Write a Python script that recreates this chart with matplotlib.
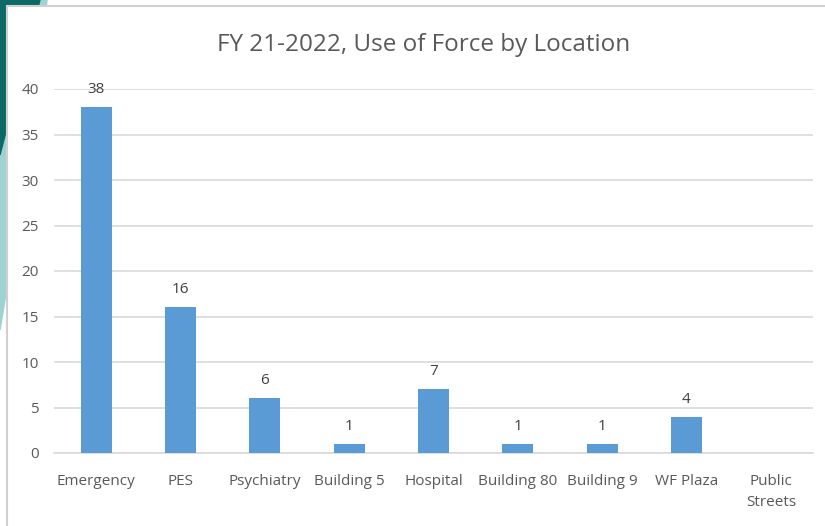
import matplotlib
matplotlib.use("Agg")
import matplotlib.pyplot as plt
from matplotlib.patches import Polygon, Rectangle
import numpy as np

plt.rcParams['font.family'] = ['Open Sans', 'DejaVu Sans']

locations = ["Emergency", "PES", "Psychiatry", "Building 5", "Hospital",
             "Building 80", "Building 9", "WF Plaza", "Public\nStreets"]
counts = [38, 16, 6, 1, 7, 1, 1, 4, 0]
labels = ["38", "16", "6", "1", "7", "1", "1", "4", ""]

W, H = 825, 526
fig = plt.figure(figsize=(W / 100, H / 100), dpi=100)

# slide background shapes on the left
fig.patches.append(Polygon([(0, 1 - 330 / H), (30 / W, 1 - 150 / H), (47 / W, 1), (0, 1)],
                           closed=True, transform=fig.transFigure, color="#9fd3d2", zorder=0))
fig.patches.append(Polygon([(0, 1 - 155 / H), (40 / W, 1), (0, 1)], closed=True,
                           transform=fig.transFigure, color="#0b6a68", zorder=0))
# chart box
fig.patches.append(Rectangle((7 / W, -0.01), 1, 1 - 6 / H + 0.01, transform=fig.transFigure,
                             facecolor="white", edgecolor="#d0d0d0", lw=1.5, zorder=1))

ax = fig.add_axes([54 / W, 1 - 453 / H, 759 / W, 364 / H])
ax.set_zorder(2)
ax.patch.set_alpha(0)
x = np.arange(len(locations))
ax.bar(x, counts, width=0.37, color="#5b9bd5", zorder=3)
for xi, v, t in zip(x, counts, labels):
    ax.text(xi, v + 1.1, t, ha="center", va="bottom", fontsize=11, color="#404040")

ax.set_xlim(-0.5, len(locations) - 0.5)
ax.set_ylim(0, 40)
ax.set_yticks(range(0, 41, 5))
ax.yaxis.grid(True, color="#d9d9d9", lw=1.2)
ax.set_axisbelow(True)
ax.tick_params(axis="both", length=0, labelsize=11, colors="#595959")
ax.tick_params(axis="y", pad=11)
ax.tick_params(axis="x", pad=15)
ax.set_xticks(x)
ax.set_xticklabels(locations, va="top", linespacing=1.6)
for s in ["top", "right", "left"]:
    ax.spines[s].set_visible(False)
ax.spines["bottom"].set_color("#d9d9d9")
ax.spines["bottom"].set_linewidth(1.2)

fig.text(424 / W, 1 - 45 / H, "FY 21-2022, Use of Force by Location", ha="center",
         va="center", fontsize=17.5, color="#595959")

fig.savefig("out.png", dpi=100)
